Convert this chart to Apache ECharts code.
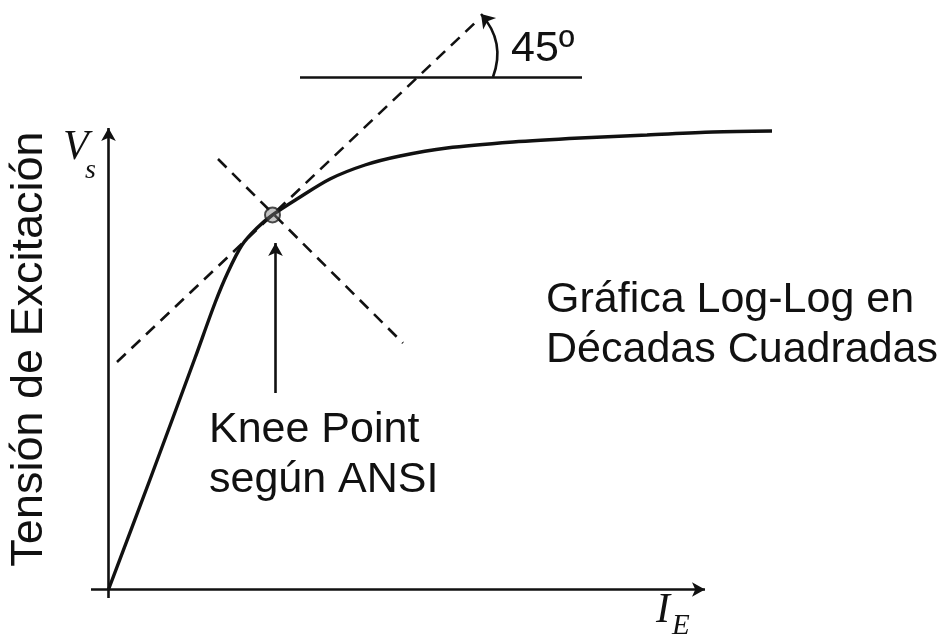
<!DOCTYPE html>
<html>
<head>
<meta charset="utf-8">
<script src="https://cdn.jsdelivr.net/npm/echarts@6/dist/echarts.min.js"></script>
<style>
  html, body { margin: 0; padding: 0; background: #ffffff; }
  #chart { width: 946px; height: 635px; }
</style>
</head>
<body>
<div id="chart"></div>
<script>
// Excitation curve (I_E, V_s) in diagram units
const curveIe = [0, 0.83, 1.73, 2.13, 2.39, 2.67, 2.97, 3.28, 3.77, 4.43, 5.13, 5.83, 6.77, 8.09, 9.43, 10.77, 12.09, 13.27];
const curveVs = [0, 2.2, 4.63, 5.73, 6.35, 6.89, 7.23, 7.49, 7.81, 8.21, 8.49, 8.67, 8.83, 8.95, 9.03, 9.09, 9.15, 9.17];

// ANSI knee point and its construction lines
const kneePoint = [3.28, 7.49];
const tangentLine = [[0.17, 4.55], [7.40, 11.40]];   // 45° tangent
const normalLine = [[2.19, 8.61], [5.89, 4.93]];     // perpendicular through the knee
const referenceLine = [[3.83, 10.24], [9.47, 10.24]]; // horizontal reference for the angle
const angleArc = [[7.69, 10.25], [7.45, 11.51]];
const kneePointer = [[3.34, 3.93], [3.34, 6.93]];

// Axis extents
const xAxisLine = [[-0.35, 0], [11.93, 0]];
const yAxisLine = [[0, -0.17], [0, 9.23]];

// Texts
const yTitle = 'Tensión de Excitación';
const kneeLabel = ['Knee Point', 'según ANSI'];
const noteLabel = ['Gráfica Log-Log en', 'Décadas Cuadradas'];
const angleLabel = '45º';

const ink = '#111111';
const sans = '"Liberation Sans", Arial, sans-serif';
const serif = '"Liberation Serif", "Times New Roman", serif';

const chart = echarts.init(document.getElementById('chart'));

const seg = (pts) => [{ coord: pts[0] }, { coord: pts[1] }];

chart.setOption({
  animation: false,
  backgroundColor: '#ffffff',
  grid: { left: 0, right: 0, top: 0, bottom: 0 },
  xAxis: { type: 'value', min: -2.17, max: 16.75, show: false },
  yAxis: { type: 'value', min: -0.91, max: 11.79, show: false },
  series: [
    {
      name: 'tangent',
      type: 'line',
      data: tangentLine,
      symbol: 'none',
      lineStyle: { color: ink, width: 2.6, type: [12, 8] },
      z: 2
    },
    {
      name: 'normal',
      type: 'line',
      data: normalLine,
      symbol: 'none',
      lineStyle: { color: ink, width: 2.6, type: [12, 8] },
      z: 2
    },
    {
      name: 'reference',
      type: 'line',
      data: referenceLine,
      symbol: 'none',
      lineStyle: { color: ink, width: 2.6 },
      z: 2
    },
    {
      name: 'angle',
      type: 'lines',
      coordinateSystem: 'cartesian2d',
      silent: true,
      symbol: ['none', 'arrow'],
      symbolSize: [11, 13],
      lineStyle: { color: ink, width: 2.6, opacity: 1, curveness: -0.3 },
      data: [{ coords: angleArc }],
      z: 3
    },
    {
      name: 'excitation',
      type: 'line',
      data: curveIe.map((x, i) => [x, curveVs[i]]),
      symbol: 'none',
      smooth: 0.3,
      lineStyle: { color: ink, width: 3.4 },
      z: 3,
      markLine: {
        silent: true,
        symbol: ['none', 'arrow'],
        symbolSize: [11, 13],
        label: { show: false },
        lineStyle: { color: ink, width: 2.6, type: 'solid' },
        data: [
          seg(xAxisLine),
          seg(yAxisLine),
          Object.assign(seg(kneePointer), {
            lineStyle: { color: '#333333', width: 2.6, type: 'solid' }
          })
        ]
      }
    },
    {
      name: 'knee',
      type: 'scatter',
      data: [kneePoint],
      symbol: 'circle',
      symbolSize: 15,
      itemStyle: {
        color: 'rgba(120,120,120,0.55)',
        borderColor: '#222222',
        borderWidth: 2
      },
      z: 5
    }
  ],
  graphic: [
    {
      type: 'text', x: 30, y: 349, rotation: Math.PI / 2,
      style: { text: yTitle, font: '45px ' + sans, fill: ink, align: 'center', verticalAlign: 'middle' }
    },
    {
      type: 'text', x: 63, y: 148,
      style: { text: 'V', font: 'italic 42px ' + serif, fill: ink, align: 'left', verticalAlign: 'middle' }
    },
    {
      type: 'text', x: 85, y: 171,
      style: { text: 's', font: 'italic 28px ' + serif, fill: ink, align: 'left', verticalAlign: 'middle' }
    },
    {
      type: 'text', x: 656, y: 611,
      style: { text: 'I', font: 'italic 42px ' + serif, fill: ink, align: 'left', verticalAlign: 'middle' }
    },
    {
      type: 'text', x: 672, y: 626,
      style: { text: 'E', font: 'italic 29px ' + serif, fill: ink, align: 'left', verticalAlign: 'middle' }
    },
    {
      type: 'text', x: 209, y: 430,
      style: { text: kneeLabel[0], font: '43px ' + sans, fill: ink, align: 'left', verticalAlign: 'middle' }
    },
    {
      type: 'text', x: 209, y: 480,
      style: { text: kneeLabel[1], font: '43px ' + sans, fill: ink, align: 'left', verticalAlign: 'middle' }
    },
    {
      type: 'text', x: 546, y: 300,
      style: { text: noteLabel[0], font: '43px ' + sans, fill: ink, align: 'left', verticalAlign: 'middle' }
    },
    {
      type: 'text', x: 546, y: 350,
      style: { text: noteLabel[1], font: '43px ' + sans, fill: ink, align: 'left', verticalAlign: 'middle' }
    },
    {
      type: 'text', x: 511, y: 49,
      style: { text: angleLabel, font: '43px ' + sans, fill: ink, align: 'left', verticalAlign: 'middle' }
    }
  ]
});
</script>
</body>
</html>
